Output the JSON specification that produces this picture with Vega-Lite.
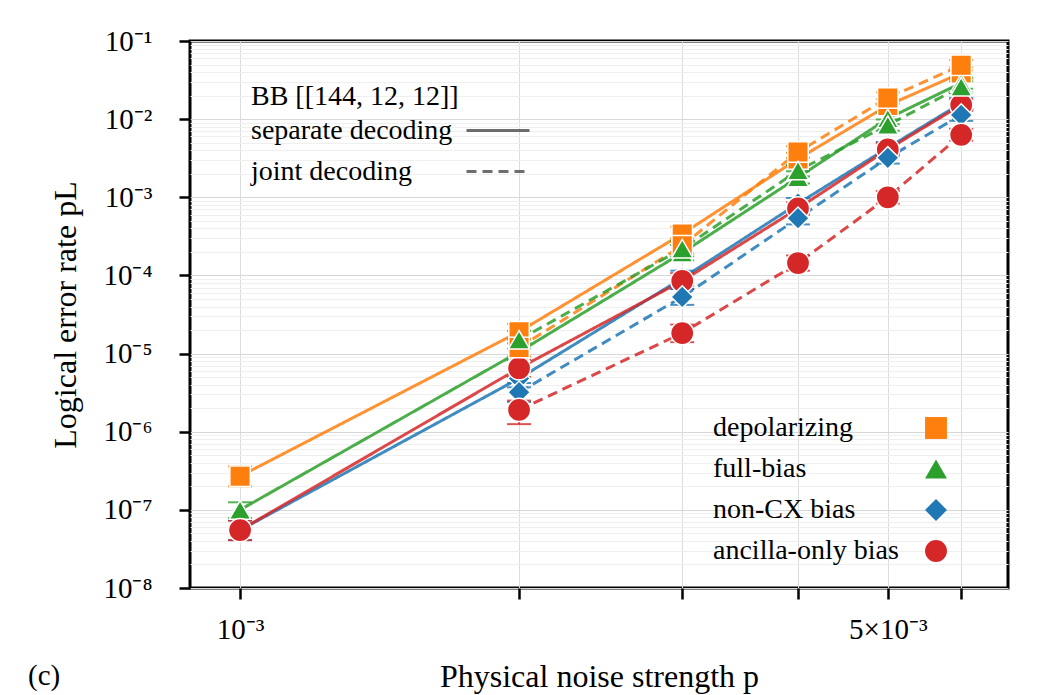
{
  "$schema": "https://vega.github.io/schema/vega-lite/v6.json",
  "width": 818,
  "height": 547,
  "autosize": {"type": "none"},
  "padding": {"left": 190, "top": 41, "right": 30, "bottom": 107},
  "background": "white",
  "config": {
    "font": "Liberation Serif",
    "view": {"stroke": "black", "strokeWidth": 3},
    "axis": {
      "domain": false,
      "tickColor": "black",
      "tickWidth": 2.5,
      "tickSize": 11,
      "labelFont": "Liberation Serif",
      "labelFontSize": 29,
      "labelColor": "black",
      "labelOverlap": false,
      "labelBound": false,
      "labelFlush": false,
      "titleFont": "Liberation Serif",
      "titleFontSize": 32,
      "titleFontWeight": "normal",
      "titleColor": "black",
      "grid": true,
      "gridWidth": 1
    },
    "legend": {
      "labelFont": "Liberation Serif",
      "titleFont": "Liberation Serif",
      "labelFontSize": 28,
      "labelColor": "black",
      "labelLimit": 500,
      "titleLimit": 500,
      "padding": 0
    }
  },
  "title": {
    "text": "(c)",
    "orient": "bottom",
    "anchor": "start",
    "frame": "group",
    "font": "Liberation Serif",
    "fontSize": 29,
    "fontWeight": "normal",
    "color": "black",
    "dx": -162,
    "offset": -30
  },
  "resolve": {"legend": {"color": "independent", "shape": "independent"}},
  "data": {
    "values": [
      {"p": 0.001, "series": "depolarizing", "decoding": "separate decoding", "pL": 2.7e-7, "lo": 2.0e-7, "hi": 3.6e-7},
      {"p": 0.002, "series": "depolarizing", "decoding": "separate decoding", "pL": 1.9e-5, "lo": 1.5e-5, "hi": 2.4e-5},
      {"p": 0.003, "series": "depolarizing", "decoding": "separate decoding", "pL": 3.4e-4, "lo": 2.7e-4, "hi": 4.2e-4},
      {"p": 0.004, "series": "depolarizing", "decoding": "separate decoding", "pL": 3.1e-3, "lo": 2.6e-3, "hi": 3.7e-3},
      {"p": 0.005, "series": "depolarizing", "decoding": "separate decoding", "pL": 1.5e-2, "lo": 1.25e-2, "hi": 1.8e-2},
      {"p": 0.006, "series": "depolarizing", "decoding": "separate decoding", "pL": 3.9e-2, "lo": 3.3e-2, "hi": 4.6e-2},
      {"p": 0.001, "series": "full-bias", "decoding": "separate decoding", "pL": 1.0e-7, "lo": 7.8e-8, "hi": 1.25e-7},
      {"p": 0.002, "series": "full-bias", "decoding": "separate decoding", "pL": 1.05e-5, "lo": 8.2e-6, "hi": 1.35e-5},
      {"p": 0.003, "series": "full-bias", "decoding": "separate decoding", "pL": 1.95e-4, "lo": 1.55e-4, "hi": 2.45e-4},
      {"p": 0.004, "series": "full-bias", "decoding": "separate decoding", "pL": 1.8e-3, "lo": 1.5e-3, "hi": 2.15e-3},
      {"p": 0.005, "series": "full-bias", "decoding": "separate decoding", "pL": 1.02e-2, "lo": 8.6e-3, "hi": 1.2e-2},
      {"p": 0.006, "series": "full-bias", "decoding": "separate decoding", "pL": 2.9e-2, "lo": 2.45e-2, "hi": 3.4e-2},
      {"p": 0.001, "series": "non-CX bias", "decoding": "separate decoding", "pL": 5.5e-8, "lo": 4.1e-8, "hi": 7.3e-8},
      {"p": 0.002, "series": "non-CX bias", "decoding": "separate decoding", "pL": 4.8e-6, "lo": 3.7e-6, "hi": 6.2e-6},
      {"p": 0.003, "series": "non-CX bias", "decoding": "separate decoding", "pL": 9.2e-5, "lo": 7.3e-5, "hi": 1.15e-4},
      {"p": 0.004, "series": "non-CX bias", "decoding": "separate decoding", "pL": 8.3e-4, "lo": 7.0e-4, "hi": 9.8e-4},
      {"p": 0.005, "series": "non-CX bias", "decoding": "separate decoding", "pL": 4.3e-3, "lo": 3.6e-3, "hi": 5.1e-3},
      {"p": 0.006, "series": "non-CX bias", "decoding": "separate decoding", "pL": 1.6e-2, "lo": 1.35e-2, "hi": 1.9e-2},
      {"p": 0.001, "series": "ancilla-only bias", "decoding": "separate decoding", "pL": 5.5e-8, "lo": 4.1e-8, "hi": 7.3e-8},
      {"p": 0.002, "series": "ancilla-only bias", "decoding": "separate decoding", "pL": 6.5e-6, "lo": 5.0e-6, "hi": 8.3e-6},
      {"p": 0.003, "series": "ancilla-only bias", "decoding": "separate decoding", "pL": 8.5e-5, "lo": 6.7e-5, "hi": 1.07e-4},
      {"p": 0.004, "series": "ancilla-only bias", "decoding": "separate decoding", "pL": 7.2e-4, "lo": 6.0e-4, "hi": 8.6e-4},
      {"p": 0.005, "series": "ancilla-only bias", "decoding": "separate decoding", "pL": 4.1e-3, "lo": 3.4e-3, "hi": 4.9e-3},
      {"p": 0.006, "series": "ancilla-only bias", "decoding": "separate decoding", "pL": 1.52e-2, "lo": 1.28e-2, "hi": 1.8e-2},
      {"p": 0.002, "series": "depolarizing", "decoding": "joint decoding", "pL": 1.2e-5, "lo": 9.2e-6, "hi": 1.55e-5},
      {"p": 0.003, "series": "depolarizing", "decoding": "joint decoding", "pL": 2.4e-4, "lo": 1.9e-4, "hi": 3.0e-4},
      {"p": 0.004, "series": "depolarizing", "decoding": "joint decoding", "pL": 3.8e-3, "lo": 3.2e-3, "hi": 4.5e-3},
      {"p": 0.005, "series": "depolarizing", "decoding": "joint decoding", "pL": 1.87e-2, "lo": 1.58e-2, "hi": 2.2e-2},
      {"p": 0.006, "series": "depolarizing", "decoding": "joint decoding", "pL": 4.9e-2, "lo": 4.2e-2, "hi": 5.7e-2},
      {"p": 0.002, "series": "full-bias", "decoding": "joint decoding", "pL": 1.5e-5, "lo": 1.15e-5, "hi": 1.95e-5},
      {"p": 0.003, "series": "full-bias", "decoding": "joint decoding", "pL": 2.2e-4, "lo": 1.75e-4, "hi": 2.75e-4},
      {"p": 0.004, "series": "full-bias", "decoding": "joint decoding", "pL": 2.2e-3, "lo": 1.85e-3, "hi": 2.6e-3},
      {"p": 0.005, "series": "full-bias", "decoding": "joint decoding", "pL": 8.4e-3, "lo": 7.1e-3, "hi": 9.9e-3},
      {"p": 0.006, "series": "full-bias", "decoding": "joint decoding", "pL": 2.6e-2, "lo": 2.2e-2, "hi": 3.05e-2},
      {"p": 0.002, "series": "non-CX bias", "decoding": "joint decoding", "pL": 3.2e-6, "lo": 2.4e-6, "hi": 4.2e-6},
      {"p": 0.003, "series": "non-CX bias", "decoding": "joint decoding", "pL": 5.3e-5, "lo": 4.2e-5, "hi": 6.7e-5},
      {"p": 0.004, "series": "non-CX bias", "decoding": "joint decoding", "pL": 5.4e-4, "lo": 4.5e-4, "hi": 6.5e-4},
      {"p": 0.005, "series": "non-CX bias", "decoding": "joint decoding", "pL": 3.2e-3, "lo": 2.7e-3, "hi": 3.8e-3},
      {"p": 0.006, "series": "non-CX bias", "decoding": "joint decoding", "pL": 1.13e-2, "lo": 9.5e-3, "hi": 1.34e-2},
      {"p": 0.002, "series": "ancilla-only bias", "decoding": "joint decoding", "pL": 1.9e-6, "lo": 1.25e-6, "hi": 2.5e-6},
      {"p": 0.003, "series": "ancilla-only bias", "decoding": "joint decoding", "pL": 1.83e-5, "lo": 1.4e-5, "hi": 2.35e-5},
      {"p": 0.004, "series": "ancilla-only bias", "decoding": "joint decoding", "pL": 1.44e-4, "lo": 1.15e-4, "hi": 1.8e-4},
      {"p": 0.005, "series": "ancilla-only bias", "decoding": "joint decoding", "pL": 1.0e-3, "lo": 8.3e-4, "hi": 1.2e-3},
      {"p": 0.006, "series": "ancilla-only bias", "decoding": "joint decoding", "pL": 6.3e-3, "lo": 5.3e-3, "hi": 7.5e-3}
    ]
  },
  "encoding": {
    "x": {
      "field": "p",
      "type": "quantitative",
      "scale": {"type": "log", "domain": [0.000883, 0.00674], "nice": false},
      "axis": {
        "title": "Physical noise strength p",
        "values": [0.001, 0.002, 0.003, 0.004, 0.005, 0.006],
        "labelExpr": "round(datum.value*1e4) == 10 ? '10⁻³' : (round(datum.value*1e4) == 50 ? '5×10⁻³' : '')",
        "labelPadding": 16,
        "titlePadding": 17,
        "gridColor": "#dcdcdc"
      }
    },
    "y": {
      "field": "pL",
      "type": "quantitative",
      "scale": {"type": "log", "domain": [1e-8, 0.1], "nice": false},
      "axis": {
        "title": "Logical error rate pL",
        "values": [1e-8, 2e-8, 3e-8, 4e-8, 5e-8, 6e-8, 7e-8, 8e-8, 9e-8,
                   1e-7, 2e-7, 3e-7, 4e-7, 5e-7, 6e-7, 7e-7, 8e-7, 9e-7,
                   1e-6, 2e-6, 3e-6, 4e-6, 5e-6, 6e-6, 7e-6, 8e-6, 9e-6,
                   1e-5, 2e-5, 3e-5, 4e-5, 5e-5, 6e-5, 7e-5, 8e-5, 9e-5,
                   1e-4, 2e-4, 3e-4, 4e-4, 5e-4, 6e-4, 7e-4, 8e-4, 9e-4,
                   1e-3, 2e-3, 3e-3, 4e-3, 5e-3, 6e-3, 7e-3, 8e-3, 9e-3,
                   1e-2, 2e-2, 3e-2, 4e-2, 5e-2, 6e-2, 7e-2, 8e-2, 9e-2, 1e-1],
        "labelExpr": "abs(log(datum.value)/LN10 - round(log(datum.value)/LN10)) < 0.01 ? '10' + ['⁻¹','⁻²','⁻³','⁻⁴','⁻⁵','⁻⁶','⁻⁷','⁻⁸'][-round(log(datum.value)/LN10) - 1] : ''",
        "tickOpacity": {"condition": {"test": "abs(log(datum.value)/LN10 - round(log(datum.value)/LN10)) < 0.01", "value": 1}, "value": 0},
        "gridColor": {"condition": {"test": "abs(log(datum.value)/LN10 - round(log(datum.value)/LN10)) < 0.01", "value": "#d8d8d8"}, "value": "#efefef"},
        "labelPadding": 27,
        "titlePadding": 20
      }
    }
  },
  "layer": [
    {
      "mark": {"type": "line", "strokeWidth": 3, "opacity": 0.85},
      "encoding": {
        "color": {
          "field": "series",
          "type": "nominal",
          "legend": null,
          "scale": {
            "domain": ["depolarizing", "full-bias", "non-CX bias", "ancilla-only bias"],
            "range": ["#ff7f0e", "#2ca02c", "#1f77b4", "#d62728"]
          }
        },
        "strokeDash": {
          "field": "decoding",
          "type": "nominal",
          "scale": {"domain": ["separate decoding", "joint decoding"], "range": [[1, 0], [10, 6]]},
          "legend": {
            "title": "BB [[144, 12, 12]]",
            "titleFontSize": 28,
            "titleFontWeight": "normal",
            "titleColor": "black",
            "titlePadding": 5.5,
            "orient": "none",
            "legendX": 61,
            "legendY": 42,
            "direction": "vertical",
            "symbolType": "M-3,0H3",
            "symbolSize": 441,
            "symbolFillColor": "transparent",
            "symbolStrokeColor": "#555555",
            "symbolStrokeWidth": 3,
            "symbolOffset": 233,
            "labelOffset": -261,
            "rowPadding": 13
          }
        }
      }
    },
    {
      "mark": {"type": "errorbar", "ticks": {"size": 24, "thickness": 2}, "rule": {"strokeWidth": 2}, "opacity": 0.8},
      "encoding": {
        "y": {"field": "lo", "type": "quantitative"},
        "y2": {"field": "hi"},
        "color": {"field": "series", "type": "nominal", "legend": null}
      }
    },
    {
      "mark": {"type": "point", "filled": true, "opacity": 1, "stroke": "white", "strokeWidth": 1.5},
      "encoding": {
        "shape": {
          "field": "series",
          "type": "nominal",
          "scale": {
            "domain": ["depolarizing", "full-bias", "non-CX bias", "ancilla-only bias"],
            "range": ["square", "triangle-up", "diamond", "circle"]
          },
          "legend": {
            "title": null,
            "orient": "none",
            "legendX": 523,
            "legendY": 373,
            "direction": "vertical",
            "symbolSize": 480,
            "symbolStrokeWidth": 0,
            "symbolOffset": 209,
            "labelOffset": -237,
            "rowPadding": 13
          }
        },
        "color": {
          "field": "series",
          "type": "nominal",
          "legend": {
            "title": null,
            "orient": "none",
            "legendX": 523,
            "legendY": 373,
            "direction": "vertical",
            "symbolSize": 480,
            "symbolStrokeWidth": 0,
            "symbolOffset": 209,
            "labelOffset": -237,
            "rowPadding": 13
          }
        },
        "size": {
          "field": "series",
          "type": "nominal",
          "legend": null,
          "scale": {
            "domain": ["depolarizing", "full-bias", "non-CX bias", "ancilla-only bias"],
            "range": [420, 540, 640, 420]
          }
        }
      }
    }
  ]
}
